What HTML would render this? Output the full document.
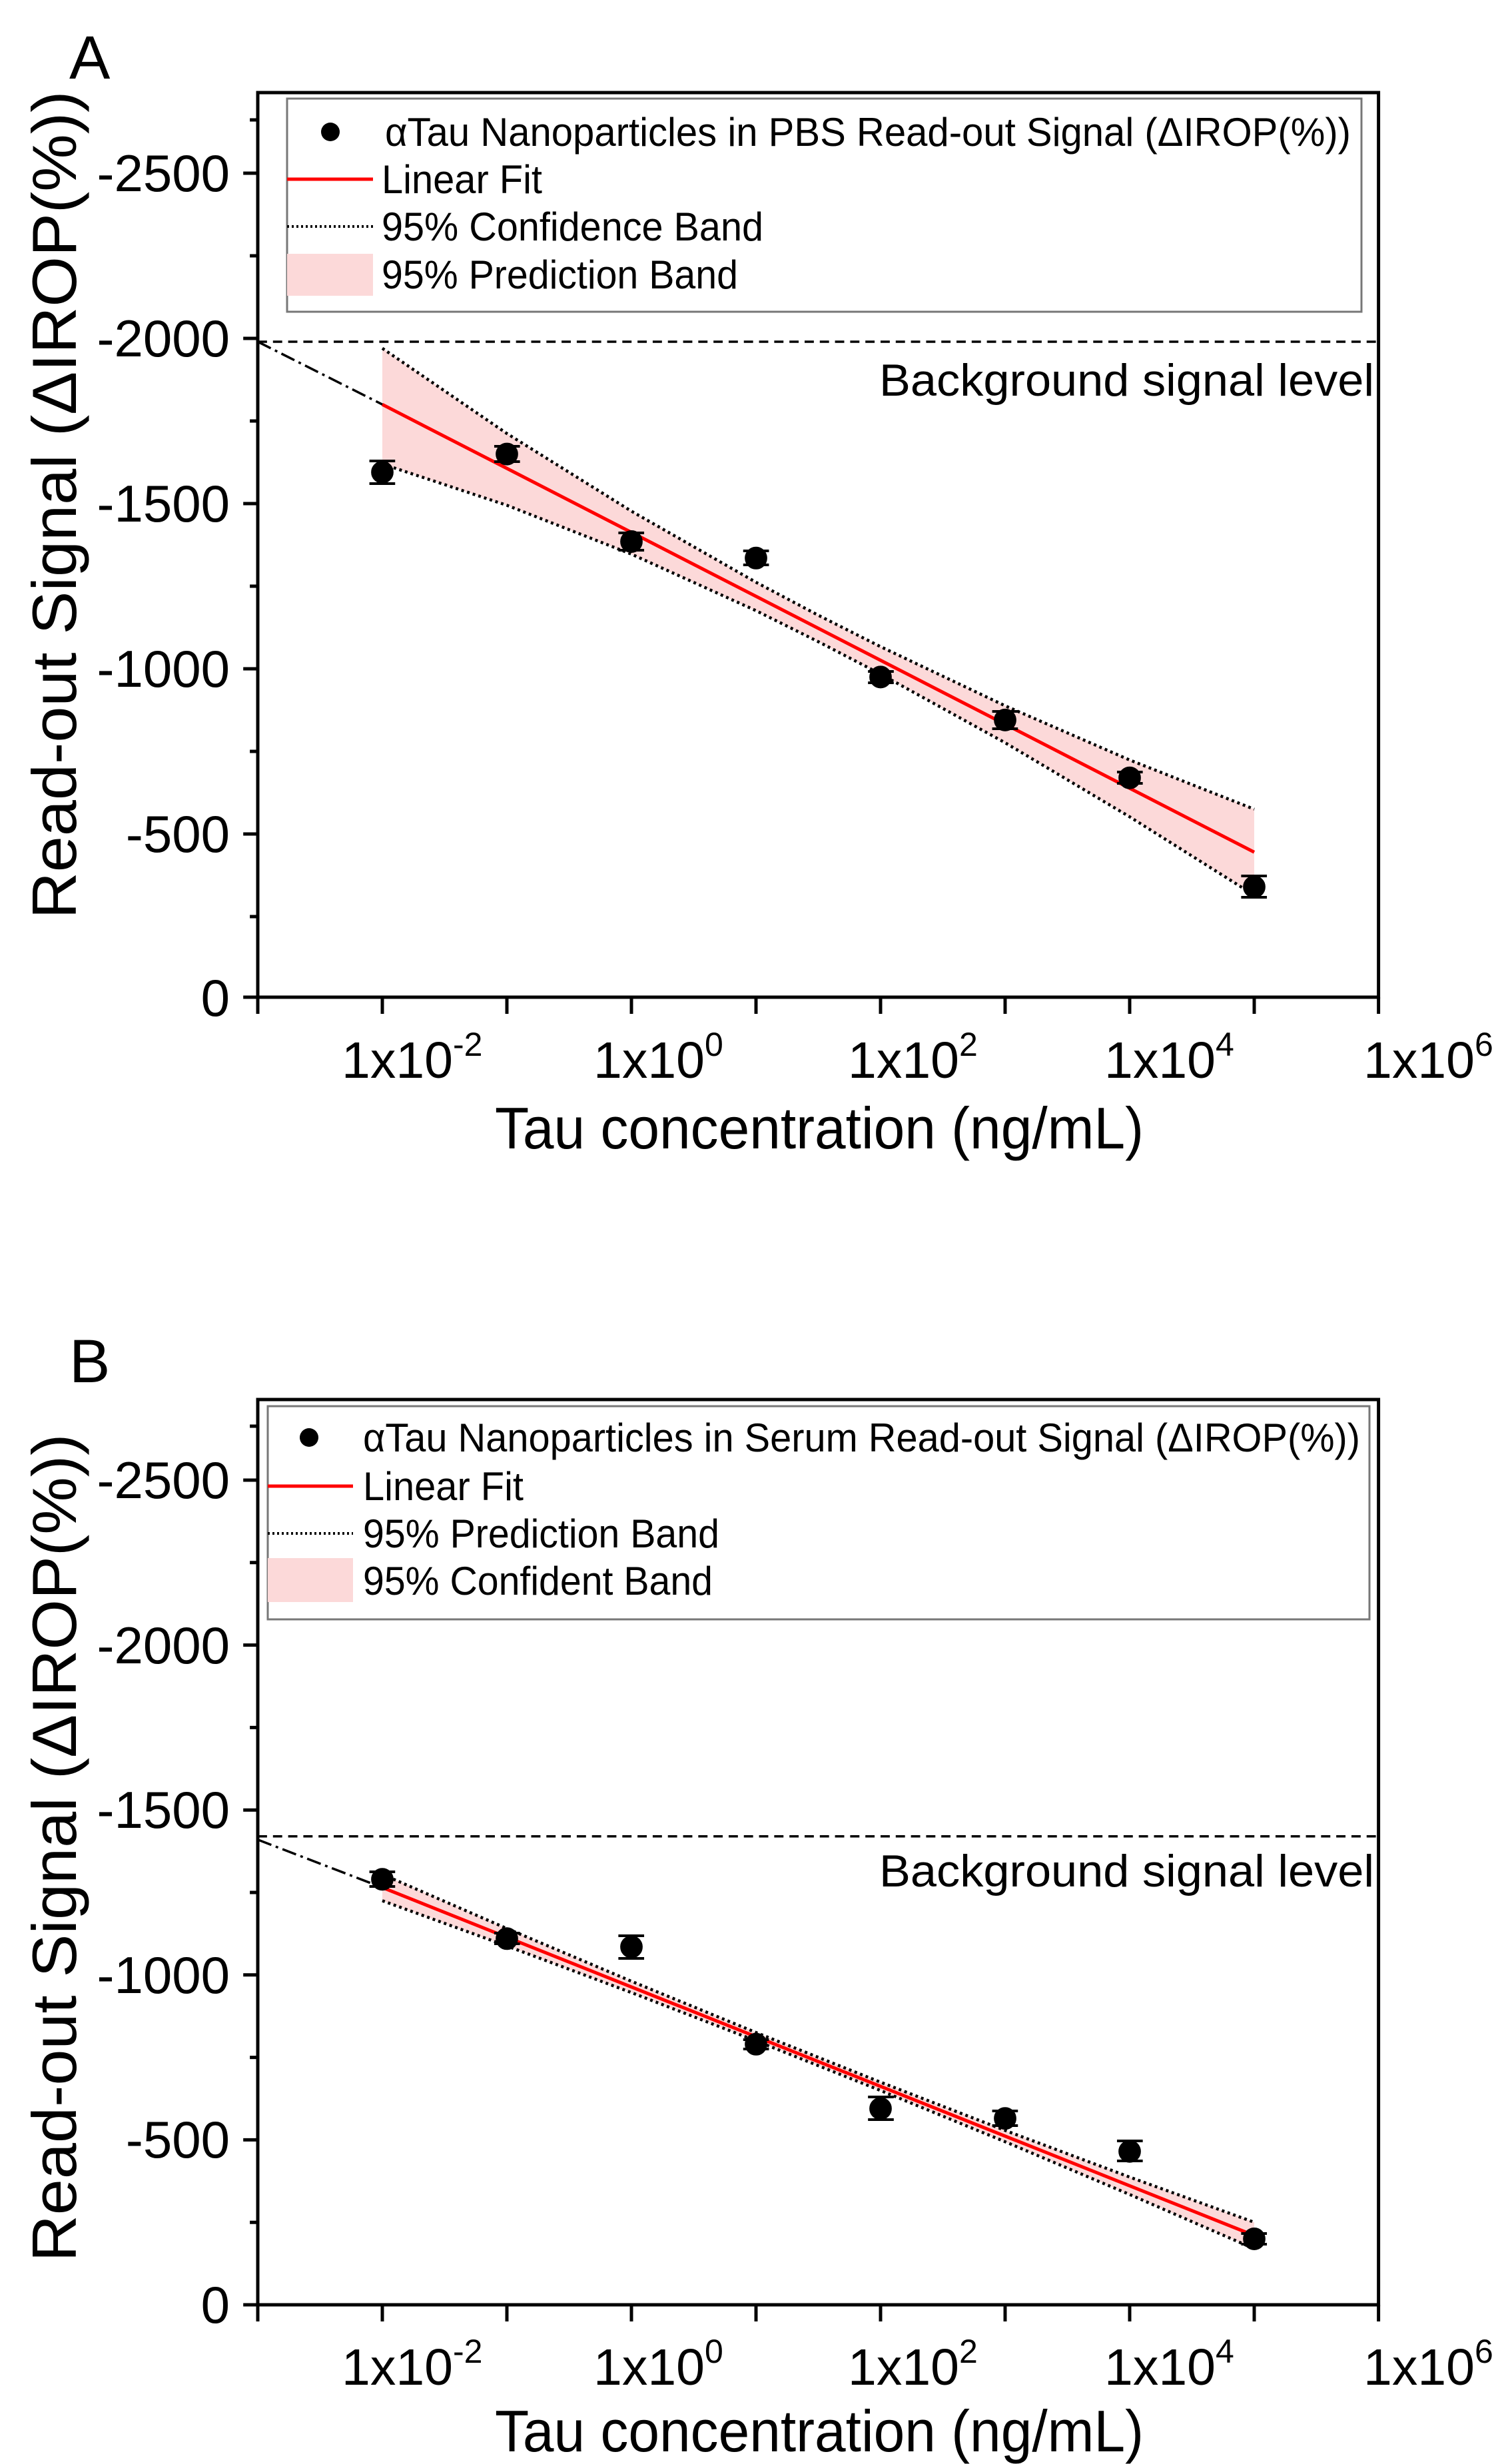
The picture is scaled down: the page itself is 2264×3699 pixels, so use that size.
<!DOCTYPE html>
<html><head><meta charset="utf-8"><style>
html,body{margin:0;padding:0;background:#fff;}
svg{display:block;font-family:"Liberation Sans",Arial,sans-serif;}
</style></head><body>
<svg width="2264" height="3699" viewBox="0 0 2264 3699" xmlns="http://www.w3.org/2000/svg">
<rect width="2264" height="3699" fill="#fff"/>

<!-- ================= PANEL A ================= -->
<text x="104" y="118" font-size="92">A</text>
<g transform="translate(387,0) scale(0.99152,1) translate(-387,0)">
<polygon fill="#fcd9d9" points="575.6,522.9 764.2,650.8 952.8,767.4 1141.4,874.1 1235.7,923.6 1330,970.8 1518.6,1059.5 1707.2,1140.9 1895.8,1214.8 1895.8,1343.8 1707.2,1226.2 1518.6,1115 1330,1011.9 1235.7,963.3 1141.4,916.7 952.8,831.9 764.2,758.5 575.6,696.5"/>
<polyline fill="none" stroke="#000" stroke-width="4.5" stroke-dasharray="4,5" points="575.6,522.9 764.2,650.8 952.8,767.4 1141.4,874.1 1235.7,923.6 1330,970.8 1518.6,1059.5 1707.2,1140.9 1895.8,1214.8"/>
<polyline fill="none" stroke="#000" stroke-width="4.5" stroke-dasharray="4,5" points="575.6,696.5 764.2,758.5 952.8,831.9 1141.4,916.7 1235.7,963.3 1330,1011.9 1518.6,1115 1707.2,1226.2 1895.8,1343.8"/>
<line x1="575.6" y1="607.2" x2="1895.8" y2="1279.3" stroke="#f00" stroke-width="5"/>
<line x1="387" y1="513" x2="575.6" y2="607.2" stroke="#000" stroke-width="3.5" stroke-dasharray="22,7,4,7"/>
<line x1="387" y1="513" x2="2084" y2="513" stroke="#000" stroke-width="3.5" stroke-dasharray="14,9"/>
<g stroke="#000" stroke-width="4" fill="#000">
<path d="M575.6 692v34M556 692h39M556 726h39"/><circle cx="575.6" cy="708.9" r="15"/>
<path d="M764.2 670v23M745 670h39M745 693h39"/><circle cx="764.2" cy="681.6" r="15"/>
<path d="M952.8 800v26M933 800h39M933 826h39"/><circle cx="952.8" cy="813" r="15"/>
<path d="M1141.4 827v21M1122 827h39M1122 848h39"/><circle cx="1141.4" cy="837.8" r="15"/>
<path d="M1330 1008v17M1311 1008h39M1311 1025h39"/><circle cx="1330" cy="1016.4" r="15"/>
<path d="M1518.6 1068v26M1499 1068h39M1499 1094h39"/><circle cx="1518.6" cy="1080.9" r="15"/>
<path d="M1707.2 1159v17M1688 1159h39M1688 1176h39"/><circle cx="1707.2" cy="1167.7" r="15"/>
<path d="M1895.8 1315v32M1876 1315h39M1876 1347h39"/><circle cx="1895.8" cy="1331.4" r="15"/>
</g>
<rect x="387" y="139" width="1697" height="1358" fill="none" stroke="#000" stroke-width="5"/>
<g stroke="#000" stroke-width="5">
<path d="M387 1497h-22M387 1376h-12M387 1252h-22M387 1128h-12M387 1004h-22M387 880h-12M387 756h-22M387 632h-12M387 508h-22M387 384h-12M387 260h-22M387 180h-12"/>
<path d="M387 1497v25M575.6 1497v25M764.2 1497v25M952.8 1497v25M1141.4 1497v25M1330 1497v25M1518.6 1497v25M1707.2 1497v25M1895.8 1497v25M2084 1497v25"/>
</g>
</g>
<text x="1320" y="594" font-size="68" textLength="743" lengthAdjust="spacingAndGlyphs">Background signal level</text>
<rect x="431" y="148" width="1613" height="320" fill="none" stroke="#777" stroke-width="3"/>
<circle cx="496" cy="198" r="14" fill="#000"/>
<text x="578" y="219" font-size="60" textLength="1450" lengthAdjust="spacingAndGlyphs">αTau Nanoparticles in PBS Read-out Signal (ΔIROP(%))</text>
<line x1="431" y1="269" x2="560" y2="269" stroke="#f00" stroke-width="5"/>
<text x="573" y="290" font-size="60" textLength="241" lengthAdjust="spacingAndGlyphs">Linear Fit</text>
<line x1="431" y1="340" x2="560" y2="340" stroke="#000" stroke-width="4" stroke-dasharray="3,4"/>
<text x="573" y="361" font-size="60" textLength="573" lengthAdjust="spacingAndGlyphs">95% Confidence Band</text>
<rect x="431" y="381" width="129" height="63" fill="#fcd9d9"/>
<text x="573" y="433" font-size="60" textLength="535" lengthAdjust="spacingAndGlyphs">95% Prediction Band</text>
<g font-size="78" text-anchor="end">
<text x="345" y="1525">0</text><text x="345" y="1279">-500</text><text x="345" y="1031">-1000</text><text x="345" y="783">-1500</text><text x="345" y="535">-2000</text><text x="345" y="287">-2500</text>
</g>
<g font-size="77">
<text x="513" y="1618">1x10<tspan font-size="50" dy="-33">-2</tspan></text>
<text x="891" y="1618">1x10<tspan font-size="50" dy="-33">0</tspan></text>
<text x="1273" y="1618">1x10<tspan font-size="50" dy="-33">2</tspan></text>
<text x="1658" y="1618">1x10<tspan font-size="50" dy="-33">4</tspan></text>
<text x="2047" y="1618">1x10<tspan font-size="50" dy="-33">6</tspan></text>
</g>
<text x="743" y="1724" font-size="88" textLength="974" lengthAdjust="spacingAndGlyphs">Tau concentration (ng/mL)</text>
<text transform="translate(114,758) rotate(-90)" font-size="94" text-anchor="middle" textLength="1243" lengthAdjust="spacingAndGlyphs">Read-out Signal (ΔIROP(%))</text>

<!-- ================= PANEL B ================= -->
<text x="104" y="2075" font-size="92">B</text>
<g transform="translate(387,0) scale(0.99152,1) translate(-387,0)">
<polygon fill="#fcd9d9" points="575.6,2813.8 764.2,2895.1 952.8,2974.3 1141.4,3051.2 1330,3125.8 1518.6,3198.2 1707.2,3268.3 1895.8,3336.1 1895.8,3375.8 1707.2,3294.4 1518.6,3215.2 1330,3138.3 1141.4,3063.7 952.8,2991.3 764.2,2921.3 575.6,2853.4"/>
<polyline fill="none" stroke="#000" stroke-width="4.5" stroke-dasharray="4,5" points="575.6,2813.8 764.2,2895.1 952.8,2974.3 1141.4,3051.2 1330,3125.8 1518.6,3198.2 1707.2,3268.3 1895.8,3336.1"/>
<polyline fill="none" stroke="#000" stroke-width="4.5" stroke-dasharray="4,5" points="575.6,2853.4 764.2,2921.3 952.8,2991.3 1141.4,3063.7 1330,3138.3 1518.6,3215.2 1707.2,3294.4 1895.8,3375.8"/>
<line x1="575.6" y1="2833.6" x2="1895.8" y2="3356" stroke="#f00" stroke-width="5"/>
<line x1="387" y1="2761.8" x2="575.6" y2="2833.6" stroke="#000" stroke-width="3.5" stroke-dasharray="22,7,4,7"/>
<line x1="387" y1="2756.8" x2="2084" y2="2756.8" stroke="#000" stroke-width="3.5" stroke-dasharray="14,9"/>
<g stroke="#000" stroke-width="4" fill="#000">
<path d="M575.6 2810v22M556 2810h39M556 2832h39"/><circle cx="575.6" cy="2821.2" r="15"/>
<path d="M764.2 2902v16M745 2902h39M745 2918h39"/><circle cx="764.2" cy="2910.3" r="15"/>
<path d="M952.8 2906v34M933 2906h39M933 2940h39"/><circle cx="952.8" cy="2922.7" r="15"/>
<path d="M1141.4 3062v14M1122 3062h39M1122 3076h39"/><circle cx="1141.4" cy="3068.8" r="15"/>
<path d="M1330 3148v34M1311 3148h39M1311 3182h39"/><circle cx="1330" cy="3165.4" r="15"/>
<path d="M1518.6 3169v22M1499 3169h39M1499 3191h39"/><circle cx="1518.6" cy="3180.2" r="15"/>
<path d="M1707.2 3214v30M1688 3214h39M1688 3244h39"/><circle cx="1707.2" cy="3229.7" r="15"/>
<path d="M1895.8 3353v16M1876 3353h39M1876 3369h39"/><circle cx="1895.8" cy="3361" r="15"/>
</g>
<rect x="387" y="2101" width="1697" height="1359" fill="none" stroke="#000" stroke-width="5"/>
<g stroke="#000" stroke-width="5">
<path d="M387 3460h-22M387 3336.2h-12M387 3212.4h-22M387 3088.6h-12M387 2964.8h-22M387 2841h-12M387 2717.2h-22M387 2593.4h-12M387 2469.6h-22M387 2345.8h-12M387 2222h-22M387 2141h-12"/>
<path d="M387 3460v25M575.6 3460v25M764.2 3460v25M952.8 3460v25M1141.4 3460v25M1330 3460v25M1518.6 3460v25M1707.2 3460v25M1895.8 3460v25M2084 3460v25"/>
</g>
</g>
<text x="1320" y="2832" font-size="68" textLength="743" lengthAdjust="spacingAndGlyphs">Background signal level</text>
<rect x="402" y="2111" width="1654" height="320" fill="none" stroke="#777" stroke-width="3"/>
<circle cx="464" cy="2158" r="14" fill="#000"/>
<text x="545" y="2179" font-size="60" textLength="1497" lengthAdjust="spacingAndGlyphs">αTau Nanoparticles in Serum Read-out Signal (ΔIROP(%))</text>
<line x1="402" y1="2231" x2="530" y2="2231" stroke="#f00" stroke-width="5"/>
<text x="545" y="2252" font-size="60" textLength="241" lengthAdjust="spacingAndGlyphs">Linear Fit</text>
<line x1="402" y1="2302" x2="530" y2="2302" stroke="#000" stroke-width="4" stroke-dasharray="3,4"/>
<text x="545" y="2323" font-size="60" textLength="535" lengthAdjust="spacingAndGlyphs">95% Prediction Band</text>
<rect x="402" y="2339" width="128" height="66" fill="#fcd9d9"/>
<text x="545" y="2394" font-size="60" textLength="525" lengthAdjust="spacingAndGlyphs">95% Confident Band</text>
<g font-size="78" text-anchor="end">
<text x="345" y="3487">0</text><text x="345" y="3239">-500</text><text x="345" y="2992">-1000</text><text x="345" y="2744">-1500</text><text x="345" y="2497">-2000</text><text x="345" y="2249">-2500</text>
</g>
<g font-size="77">
<text x="513" y="3580">1x10<tspan font-size="50" dy="-33">-2</tspan></text>
<text x="891" y="3580">1x10<tspan font-size="50" dy="-33">0</tspan></text>
<text x="1273" y="3580">1x10<tspan font-size="50" dy="-33">2</tspan></text>
<text x="1658" y="3580">1x10<tspan font-size="50" dy="-33">4</tspan></text>
<text x="2047" y="3580">1x10<tspan font-size="50" dy="-33">6</tspan></text>
</g>
<text x="743" y="3680" font-size="88" textLength="974" lengthAdjust="spacingAndGlyphs">Tau concentration (ng/mL)</text>
<text transform="translate(114,2774) rotate(-90)" font-size="94" text-anchor="middle" textLength="1243" lengthAdjust="spacingAndGlyphs">Read-out Signal (ΔIROP(%))</text>
</svg>
</body></html>
